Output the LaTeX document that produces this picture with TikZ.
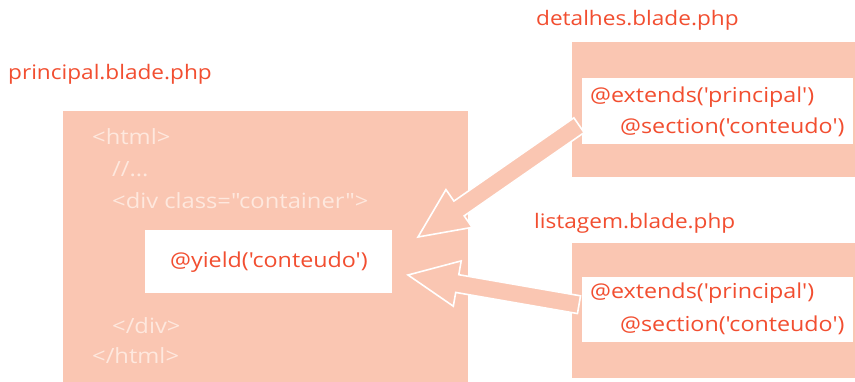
\documentclass[tikz,border=0pt]{standalone}
\usepackage{fontspec}
\setmainfont{Open Sans}[Ligatures=TeXOff, FakeStretch=1.13]
\usetikzlibrary{calc}
\definecolor{salmon}{RGB}{250,198,178}
\definecolor{txtred}{RGB}{242,78,48}
\definecolor{pale}{RGB}{254,232,222}
\begin{document}
\begin{tikzpicture}[x=1pt,y=-1pt,
  box/.style={fill=salmon, draw=none, inner sep=0pt, anchor=north west},
  wbox/.style={fill=white, draw=none, inner sep=0pt, anchor=north west},
  lbl/.style={text=txtred, font=\fontsize{20}{24}\selectfont, anchor=west, inner sep=0pt},
  code/.style={text=txtred, font=\fontsize{20.6}{25}\selectfont, anchor=west, inner sep=0pt},
  faint/.style={text=pale, font=\fontsize{21}{25}\selectfont, anchor=west, inner sep=0pt},
  blockarrow/.style={fill=salmon, draw=white, line width=1.6pt, line join=miter}]
\useasboundingbox (0,0) rectangle (855,382);
\fill[white] (0,0) rectangle (855,382);

% main template
\node[box, minimum width=405pt, minimum height=271pt] (main) at (63,111) {};
\node[wbox, minimum width=247pt, minimum height=63pt] (yieldbox) at (145,230) {};
\node[lbl] (plabel) at (8,74) {principal.blade.php};
\node[faint] (l1) at (92,137) {<html>};
\node[faint] (l2) at (112,169) {//...};
\node[faint] (l3) at (112,201) {<div class="container">};
\node[code] (yield) at (170,262) {@yield('conteudo')};
\node[faint] (l4) at (112,326) {</div>};
\node[faint] (l5) at (92,356) {</html>};

% detalhes
\node[box, minimum width=283pt, minimum height=135pt] (det) at (572,42) {};
\node[wbox, minimum width=271pt, minimum height=66pt] (detw) at (582,78) {};
\node[lbl] (dlabel) at (536,20) {detalhes.blade.php};
\node[code] (d1) at (590,97) {@extends('principal')};
\node[code] (d2) at (620,127) {@section('conteudo')};

% listagem
\node[box, minimum width=283pt, minimum height=135pt] (lst) at (572,243) {};
\node[wbox, minimum width=271pt, minimum height=65pt] (lstw) at (582,277) {};
\node[lbl] (llabel) at (534,223) {listagem.blade.php};
\node[code] (s1) at (590,293) {@extends('principal')};
\node[code] (s2) at (620,325) {@section('conteudo')};

% arrows
\coordinate (a1tail) at ($(detw.west)+(-3,14)$);
\coordinate (a1tip) at (418,237);
\coordinate (a2tail) at ($(lstw.west)+(-3,-5)$);
\coordinate (a2tip) at (408,275);

\foreach \A/\B in {a1tail/a1tip, a2tail/a2tip}{
  \draw[blockarrow]
    (\B)
    -- ($($(\B)!50pt!(\A)$)!23pt!90:(\A)$)
    -- ($($(\B)!50pt!(\A)$)!9pt!90:(\A)$)
    -- ($(\A)!9pt!-90:(\B)$)
    -- ($(\A)!9pt!90:(\B)$)
    -- ($($(\B)!50pt!(\A)$)!9pt!-90:(\A)$)
    -- ($($(\B)!50pt!(\A)$)!23pt!-90:(\A)$)
    -- cycle;
}
\end{tikzpicture}
\end{document}
